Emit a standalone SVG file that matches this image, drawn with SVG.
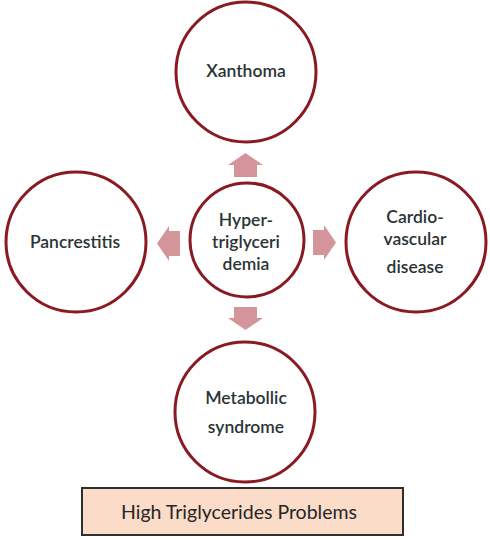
<svg xmlns="http://www.w3.org/2000/svg" width="490" height="539" viewBox="0 0 490 539">
<style>
.node{fill:#ffffff;stroke:#8a1a22;stroke-width:3}
.lbl{font-family:Lato,"Open Sans","Liberation Sans",sans-serif;font-size:17.5px;font-weight:600;fill:#2a3434;text-anchor:middle}
.arr{fill:#d3959a}
.cap{font-family:Lato,"Liberation Sans",sans-serif;font-size:19.5px;fill:#262626;text-anchor:middle}
</style>
<rect width="490" height="539" fill="#ffffff"/>
<g id="connectors">
<polygon class="arr" points="228,165 245.5,153 263,165 257,165 257,177 234,177 234,165"/>
<polygon class="arr" points="228,318 245.5,330 263,318 257,318 257,307 234,307 234,318"/>
<polygon class="arr" points="313,230 324,230 324,225 336,242.5 324,260 324,255 313,255"/>
<polygon class="arr" points="180,231 169,231 169,226 157,243.5 169,261 169,256 180,256"/>
</g>
<g id="center">
<circle class="node" cx="247" cy="240" r="57"/>
<text class="lbl" x="246" y="226">Hyper-</text>
<text class="lbl" x="246" y="248">triglyceri</text>
<text class="lbl" x="246" y="270">demia</text>
</g>
<g id="xanthoma">
<circle class="node" cx="246" cy="72" r="70"/>
<text class="lbl" x="246" y="77">Xanthoma</text>
</g>
<g id="pancrestitis">
<circle class="node" cx="76" cy="242" r="70"/>
<text class="lbl" x="75" y="248">Pancrestitis</text>
</g>
<g id="cardio">
<circle class="node" cx="416" cy="242" r="70"/>
<text class="lbl" x="415" y="223">Cardio-</text>
<text class="lbl" x="415" y="245">vascular</text>
<text class="lbl" x="415" y="273">disease</text>
</g>
<g id="metabolic">
<circle class="node" cx="245" cy="412" r="70"/>
<text class="lbl" x="246" y="404">Metabollic</text>
<text class="lbl" x="246" y="433">syndrome</text>
</g>
<g id="caption">
<rect x="82" y="488" width="321" height="47" fill="#fbdcc8" stroke="#2f2f2f" stroke-width="2"/>
<text class="cap" x="239" y="519">High Triglycerides Problems</text>
</g>
</svg>
